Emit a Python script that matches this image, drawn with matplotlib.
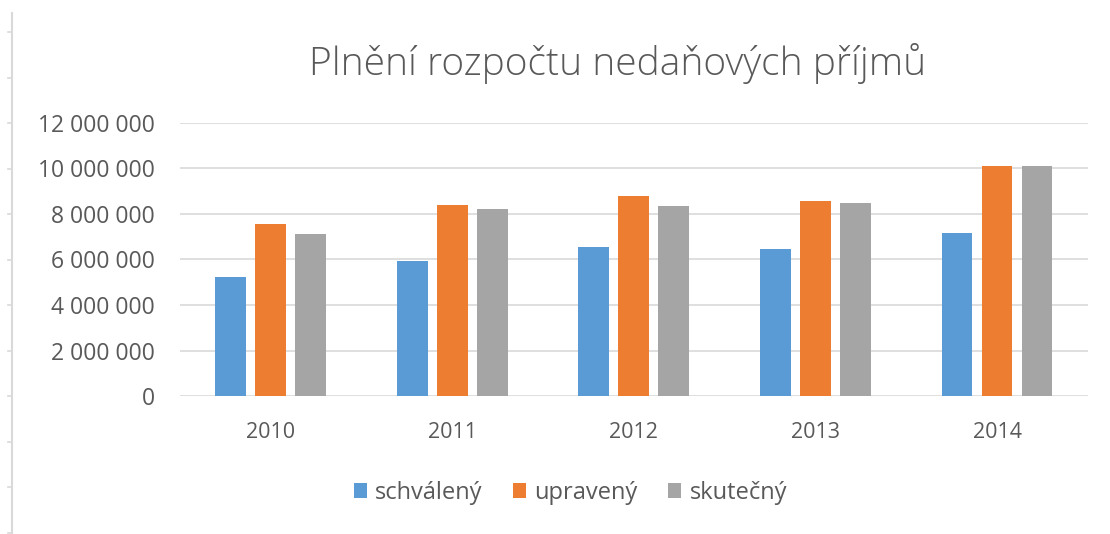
import numpy as np
import matplotlib
matplotlib.use("Agg")
import matplotlib.pyplot as plt
from matplotlib.lines import Line2D
from matplotlib.ticker import FuncFormatter

## DATA
roky = ["2010", "2011", "2012", "2013", "2014"]
schvaleny = [5220000, 5930000, 6530000, 6450000, 7150000]
upraveny = [7550000, 8400000, 8790000, 8590000, 10110000]
skutecny = [7140000, 8210000, 8360000, 8480000, 10110000]
serie = ["schválený", "upravený", "skutečný"]
barvy = ["#5b9bd5", "#ed7d31", "#a5a5a5"]

plt.rcParams['font.family'] = ['Open Sans', 'DejaVu Sans']
seda = "#595959"

fig = plt.figure(figsize=(11.1, 5.34), dpi=100)
ax = fig.add_axes([0.162, 0.2584, 0.818, 0.5113])

x = np.arange(len(roky))
sirka = 0.17
krok = 0.22
for k, (hodnoty, nazev) in enumerate(zip([schvaleny, upraveny, skutecny], serie)):
    ax.bar(x + (k - 1) * krok, hodnoty, width=sirka, color=barvy[k], label=nazev, zorder=3)

ax.set_xlim(-0.5, len(roky) - 0.5)
ax.set_ylim(0, 12000000)
ax.set_yticks(np.arange(0, 12000001, 2000000))
ax.yaxis.set_major_formatter(FuncFormatter(lambda v, p: f"{int(v):,}".replace(",", " ")))
ax.set_xticks(x)
ax.set_xticklabels(roky)
ax.grid(axis='y', color="#d9d9d9", linewidth=1.2, zorder=0)
for s in ax.spines.values():
    s.set_visible(False)
ax.tick_params(axis='both', length=0, colors=seda, labelsize=15.5)
ax.tick_params(axis='y', pad=18, labelsize=16.5)
ax.tick_params(axis='x', pad=19)

fig.text(0.556, 1 - 75 / 534, "Plnění rozpočtu nedaňových příjmů", ha='center', va='baseline',
         fontsize=28, color=seda, fontweight='light')

leg = fig.legend(loc='center', bbox_to_anchor=(0.514, 0.077), ncol=3, frameon=False,
                 fontsize=17, handlelength=0.55, handleheight=0.55, columnspacing=1.3,
                 handletextpad=0.35)
for t in leg.get_texts():
    t.set_color(seda)

# okrajova linka vlevo
fig.add_artist(Line2D([0.0105, 0.0105], [0.0, 0.975], color="#d9d9d9", linewidth=1.5))
for yy in np.arange(32, 534, 45.5):
    fig.add_artist(Line2D([0.0075, 0.0105], [1 - yy / 534, 1 - yy / 534], color="#d9d9d9", linewidth=1.2))

fig.savefig("out.png", dpi=100)
